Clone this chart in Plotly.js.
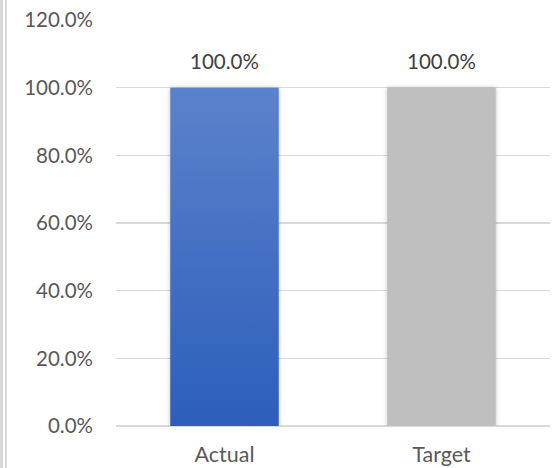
<!DOCTYPE html>
<html><head><meta charset="utf-8">
<script src="https://cdn.plot.ly/plotly-3.0.1.min.js"></script>
<style>
html,body{margin:0;padding:0;background:#fff;}
#wrap{position:relative;width:556px;height:468px;}
#lb1{position:absolute;left:0;top:0;width:3px;height:468px;background:#d9d9d9;}
#lb2{position:absolute;left:5px;top:0;width:2px;height:468px;background:#d9d9d9;}
#chart{position:absolute;left:0;top:0;width:556px;height:468px;}
</style></head>
<body><div id="wrap"><div id="chart"></div><div id="lb1"></div><div id="lb2"></div></div>
<script>
const categories = ["Actual", "Target"];
const values = [1.0, 1.0];
const labels = ["100.0%", "100.0%"];
const barColors = ["#4472c4", "#bfbfbf"];
const yTicks = [0, 0.2, 0.4, 0.6, 0.8, 1.0, 1.2];

const font = "Lato, 'Open Sans', sans-serif";
const trace = {
  type: "bar", x: categories, y: values,
  marker: {color: barColors, line: {width: 0}},
  hoverinfo: "none"
};
const layout = {
  width: 556, height: 468,
  margin: {l: 116, r: 6, t: 19.5, b: 42},
  paper_bgcolor: "#fff", plot_bgcolor: "#fff",
  showlegend: false,
  bargap: 0.5,
  font: {family: font, color: "#595959", size: 20.5},
  xaxis: {
    type: "category", showgrid: false, showline: false, zeroline: false,
    ticks: "", ticklabelstandoff: 13,
    tickfont: {family: font, size: 21.5, color: "#595959"}
  },
  yaxis: {
    range: [0, 1.2], tickvals: yTicks, tickformat: ".1%",
    showgrid: true, gridcolor: "#d9d9d9", gridwidth: 1.5,
    zeroline: true, zerolinecolor: "#d9d9d9", zerolinewidth: 1.5,
    showline: false, ticks: "", ticklabelstandoff: 22,
    tickfont: {family: font, size: 20.5, color: "#595959"}
  },
  annotations: categories.map((c, i) => ({
    x: c, y: values[i], text: labels[i], showarrow: false,
    yanchor: "bottom", yshift: 13,
    font: {family: font, size: 20.5, color: "#404040"}
  }))
};
Plotly.newPlot("chart", [trace], layout, {staticPlot: true}).then(gd => {
  const svg = gd.querySelector("svg.main-svg");
  const ns = "http://www.w3.org/2000/svg";
  let defs = svg.querySelector("defs");
  if (!defs) { defs = document.createElementNS(ns, "defs"); svg.insertBefore(defs, svg.firstChild); }
  const lg = document.createElementNS(ns, "linearGradient");
  lg.setAttribute("id", "blueGrad");
  lg.setAttribute("x1", "0"); lg.setAttribute("y1", "0");
  lg.setAttribute("x2", "0"); lg.setAttribute("y2", "1");
  [["0%", "#5b82cc"], ["100%", "#2d5eba"]].forEach(([o, c]) => {
    const s = document.createElementNS(ns, "stop");
    s.setAttribute("offset", o); s.setAttribute("stop-color", c);
    lg.appendChild(s);
  });
  defs.appendChild(lg);
  const paths = gd.querySelectorAll(".bars .point path");
  paths.forEach((p, i) => {
    if (i === 0) p.style.fill = "url(#blueGrad)";
    p.style.filter = "drop-shadow(0px 0px 2px rgba(0,0,0,0.25))";
  });
});
</script></body></html>
